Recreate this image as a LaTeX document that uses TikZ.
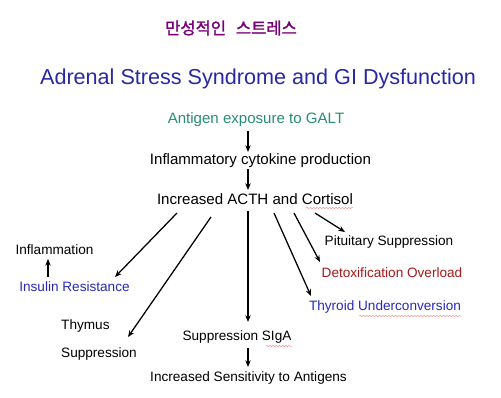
\documentclass[tikz,border=0pt]{standalone}
\usepackage{fontspec}
\setmainfont{Liberation Sans}
\newfontfamily\kofont{Noto Sans CJK KR}[FakeBold=1.6]
\usepackage{xcolor}
\usepackage{tikz}
\usetikzlibrary{arrows.meta, positioning, calc, decorations.pathmorphing}

\definecolor{titleblue}{RGB}{40,40,165}
\definecolor{textblue}{RGB}{40,40,185}
\definecolor{galtteal}{RGB}{40,140,120}
\definecolor{detoxred}{RGB}{165,25,25}
\definecolor{korpurple}{RGB}{120,0,120}

\begin{document}
\begin{tikzpicture}[
					x=0.75pt, y=-0.75pt,
					label/.style={inner sep=0pt, font=\fontsize{10.2}{12}\selectfont, text=black},
					mainlabel/.style={label, font=\fontsize{11.3}{13}\selectfont},
					arrow/.style={-{Stealth[length=5pt,width=4pt]}, line width=0.95pt},
					squiggle/.style={draw=red!45, line width=0.35pt, decorate,
						decoration={snake, amplitude=0.5pt, segment length=2.4pt}}
					]
					\useasboundingbox (0,0) rectangle (501,398);
					% --- Titles ---
					\node[inner sep=0pt, text=korpurple, font=\kofont\fontsize{12.4}{14}\selectfont] (titlekr) at (231,28) {만성적인\hspace{0.6em}스트레스};
					\node[inner sep=0pt, text=titleblue, font=\fontsize{16.2}{19}\selectfont] (title) at (258,79) {Adrenal Stress Syndrome and GI Dysfunction};
					
					% --- Main chain ---
					\node[mainlabel, text=galtteal] (galt) at (256,120) {Antigen exposure to GALT};
					\node[mainlabel] (cytokine) at (260.5,161) {Inflammatory cytokine production};
					\node[mainlabel] (acth) at (255,199) {Increased ACTH and Cortisol};
					\draw[arrow] ($(galt)+(-8,11)$) -- ($(cytokine)+(-12.5,-9)$);
					\draw[arrow] ($(cytokine)+(-12.5,8)$) -- ($(acth)+(-7,-9)$);
					
					% --- Left branch ---
					\node[label] (inflam) at (54.5,250) {Inflammation};
					\node[label, text=textblue] (insulin) at (74.5,287) {Insulin Resistance};
					\node[label, align=left] (thymus) at (99,340) {Thymus\\[9pt]Suppression};
					\draw[arrow] ($(acth)+(-78,14)$) -- ($(insulin)+(40.5,-10)$);
					\draw[arrow] ($(insulin)+(-26.5,-10)$) -- ($(inflam)+(-6.5,9)$);
					\draw[arrow] ($(acth)+(-44,18)$) -- ($(thymus)+(29,-3)$);
					
					% --- Centre branch ---
					\node[label] (siga) at (237,337) {Suppression SIgA};
					\node[label] (sensitivity) at (248.5,378) {Increased Sensitivity to Antigens};
					\draw[arrow] ($(acth)+(-7,12)$) -- ($(siga)+(11,-15)$);
					\draw[arrow] ($(siga)+(11,11)$) -- ($(sensitivity)+(-0.5,-11)$);
					
					% --- Right branch ---
					\node[label] (pituitary) at (389,242) {Pituitary Suppression};
					\node[label, text=detoxred] (detox) at (392,273) {Detoxification Overload};
					\node[label, text=textblue] (thyroid) at (385,307) {Thyroid Underconversion};
					\draw[arrow] ($(acth)+(60,14)$) -- ($(pituitary)+(-44,-10)$);
					\draw[arrow] ($(acth)+(39,14)$) -- ($(detox)+(-72,-11)$);
					\draw[arrow] ($(acth)+(19,14)$) -- ($(thyroid)+(-74,-11)$);
					
					% --- spell-check marks ---
					\draw[squiggle] ($(acth.east)+(-47,9)$) -- ($(acth.east)+(0,9)$);
					\draw[squiggle] ($(siga.east)+(-26,9)$) -- ($(siga.east)+(0,9)$);
					\draw[squiggle] ($(thyroid.east)+(-102,9)$) -- ($(thyroid.east)+(0,9)$);
				\end{tikzpicture}
\end{document}
